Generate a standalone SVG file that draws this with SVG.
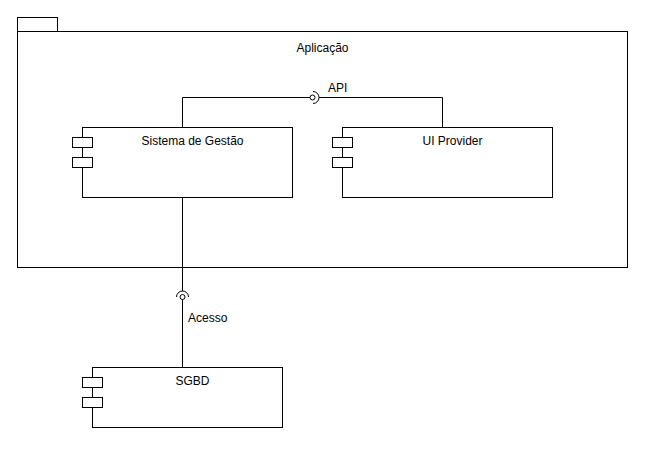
<svg xmlns="http://www.w3.org/2000/svg" width="652" height="452" viewBox="0 0 652 452">
<style>
.s{fill:#fff;stroke:#000;stroke-width:1}
.l{fill:none;stroke:#000;stroke-width:1}
text{font-family:"Liberation Sans",Arial,sans-serif;font-size:12px;fill:#000}
</style>
<rect width="652" height="452" fill="#fff"/>
<g id="aplicacao">
<rect class="s" x="17.5" y="17.5" width="40" height="14"/>
<rect class="s" x="17.5" y="31.5" width="610" height="236"/>
<text x="322.5" y="51.5" text-anchor="middle">Aplicação</text>
</g>
<g id="connectors">
<path class="l" d="M182.5 127.5V97.5H310"/>
<circle class="l" cx="312.5" cy="97.5" r="2.5"/>
<path class="l" d="M313 91.5A6 6 0 0 1 313 103.5"/>
<path class="l" d="M319 97.5H442.5V127.5"/>
<path class="l" d="M182.5 197.5V291"/>
<path class="l" d="M176.5 297A6 6 0 0 1 188.5 297"/>
<circle class="l" cx="182.5" cy="297" r="2.5"/>
<path class="l" d="M182.5 299.5V367.5"/>
<text x="328" y="92">API</text>
<text x="188" y="322">Acesso</text>
</g>
<g id="sistema">
<rect class="s" x="82.5" y="127.5" width="210" height="70"/>
<rect class="s" x="72.5" y="137.5" width="20" height="10"/>
<rect class="s" x="72.5" y="157.5" width="20" height="10"/>
<text x="192.5" y="145" text-anchor="middle">Sistema de Gestão</text>
</g>
<g id="ui">
<rect class="s" x="342.5" y="127.5" width="210" height="70"/>
<rect class="s" x="332.5" y="137.5" width="20" height="10"/>
<rect class="s" x="332.5" y="157.5" width="20" height="10"/>
<text x="452.5" y="145" text-anchor="middle">UI Provider</text>
</g>
<g id="sgbd">
<rect class="s" x="92.5" y="367.5" width="190" height="60"/>
<rect class="s" x="82.5" y="377.5" width="20" height="10"/>
<rect class="s" x="82.5" y="397.5" width="20" height="10"/>
<text x="192.5" y="385" text-anchor="middle">SGBD</text>
</g>
</svg>
